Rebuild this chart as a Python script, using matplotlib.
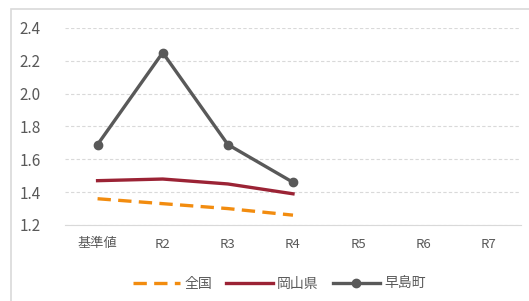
import matplotlib.pyplot as plt
from matplotlib.patches import Rectangle

plt.rcParams['font.family'] = ['Noto Sans CJK JP', 'DejaVu Sans']

categories = ['基準値', 'R2', 'R3', 'R4', 'R5', 'R6', 'R7']
zenkoku = [1.36, 1.33, 1.30, 1.26]
okayama = [1.47, 1.48, 1.45, 1.39]
hayashima = [1.69, 2.25, 1.69, 1.46]
yticks = [1.2, 1.4, 1.6, 1.8, 2.0, 2.2, 2.4]

fig = plt.figure(figsize=(5.29, 3.01), dpi=100)
ax = fig.add_axes([65 / 529, 76 / 301, 456 / 529, 197 / 301])

# chart frame
fig.patches.append(Rectangle((11 / 529, -0.1), 2, 1.1 - 9 / 301, transform=fig.transFigure,
                             fill=False, edgecolor='#d9d9d9', linewidth=1.2))

x = range(len(zenkoku))
ax.plot(x, zenkoku, color='#f28c0f', linewidth=2.4, linestyle=(0, (4, 2.2)), label='全国')
ax.plot(x, okayama, color='#9b2335', linewidth=2.4, label='岡山県')
ax.plot(x, hayashima, color='#595959', linewidth=2.4, marker='o', markersize=6, label='早島町')

ax.set_xlim(-0.5, 6.5)
ax.set_ylim(1.2, 2.4)
ax.set_yticks(yticks)
ax.set_yticklabels([f'{v:.1f}' for v in yticks])
ax.set_xticks(range(len(categories)))
ax.set_xticklabels(categories)

ax.yaxis.grid(True, color='#d9d9d9', linestyle=(0, (3, 2)), linewidth=0.8)
ax.set_axisbelow(True)
for s in ['top', 'right', 'left']:
    ax.spines[s].set_visible(False)
ax.spines['bottom'].set_color('#d9d9d9')
ax.tick_params(axis='both', length=0, colors='#595959')
ax.tick_params(axis='y', labelsize=11, pad=33)
ax.tick_params(axis='x', labelsize=9.5, pad=9)
for lab in ax.get_yticklabels():
    lab.set_horizontalalignment('left')

ax.legend(loc='upper center', bbox_to_anchor=(0.47, -0.2), ncol=3, frameon=False,
          fontsize=10, labelcolor='#595959', handlelength=3.4, columnspacing=1.0,
          handletextpad=0.3)

fig.savefig('out.png', dpi=100)
